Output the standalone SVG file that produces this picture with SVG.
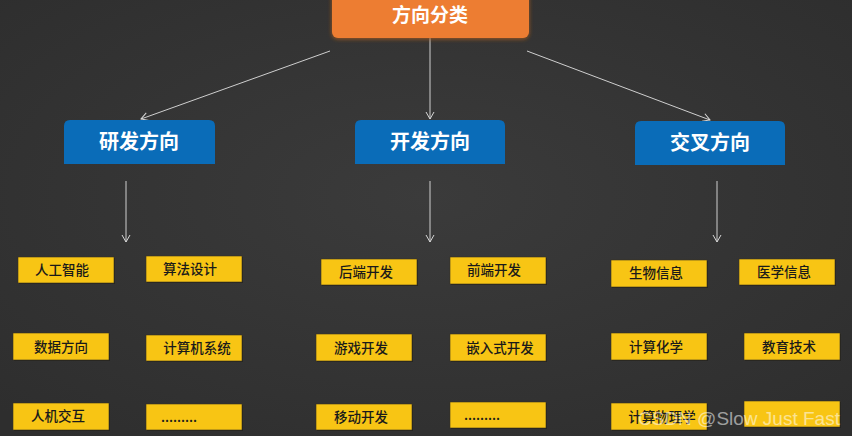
<svg xmlns="http://www.w3.org/2000/svg" width="852" height="436" viewBox="0 0 852 436">
<defs>
<radialGradient id="bg" cx="50%" cy="45%" r="70%">
<stop offset="0" stop-color="#3b3b3b"/>
<stop offset="1" stop-color="#2e2e2e"/>
</radialGradient>
<filter id="glow" x="-10%" y="-30%" width="120%" height="170%">
<feGaussianBlur in="SourceAlpha" stdDeviation="2"/>
<feOffset dx="0" dy="1" result="b"/>
<feFlood flood-color="#a85a1c" flood-opacity="0.9"/>
<feComposite in2="b" operator="in"/>
<feMerge><feMergeNode/><feMergeNode in="SourceGraphic"/></feMerge>
</filter>
<marker id="arr" markerWidth="10" markerHeight="10" refX="8" refY="5" orient="auto" markerUnits="userSpaceOnUse">
<path d="M1,1 L8,5 L1,9" fill="none" stroke="#d8d8d8" stroke-width="1"/>
</marker>
<style>
.top{fill:#ed7d31;}
.topt{font-family:"Noto Sans CJK SC","Noto Sans",sans-serif;font-size:19px;font-weight:bold;fill:#fff;text-anchor:middle;}
.cat{fill:#0a6cb8;}
.catt{font-family:"Noto Sans CJK SC","Noto Sans",sans-serif;font-size:20px;font-weight:bold;fill:#fff;text-anchor:middle;}
.leaf{fill:#f8c514;stroke:#3a3220;stroke-width:0.6;}
.shadow{fill:#1e1e1e;opacity:0.7;}
.leaft{font-family:"Noto Sans CJK SC","Noto Sans",sans-serif;font-size:13.5px;font-weight:500;fill:#1a1a1a;text-anchor:middle;}
.conn line{stroke:#cfcfcf;stroke-width:1;marker-end:url(#arr);}
.wm{font-family:"Liberation Sans",Arial,sans-serif;font-size:19px;fill:#ffffff;fill-opacity:0.55;}
</style>
</defs>
<rect width="852" height="436" fill="url(#bg)"/>

<g class="conn" id="connectors">
<line x1="330" y1="51" x2="141" y2="119"/>
<line x1="430" y1="38" x2="430" y2="119"/>
<line x1="527" y1="51" x2="710" y2="120"/>
<line x1="126" y1="181" x2="126" y2="242"/>
<line x1="430" y1="181" x2="430" y2="242"/>
<line x1="717" y1="181" x2="717" y2="242"/>
</g>

<g id="root">
<rect class="top" x="332" y="-10" width="197" height="48" rx="6" filter="url(#glow)"/>
<text class="topt" x="430" y="22">方向分类</text>
</g>

<g id="cat-yanfa">
<path class="cat" d="M64,164 V126 Q64,120 70,120 H209 Q215,120 215,126 V164 Z"/>
<text class="catt" x="139" y="149">研发方向</text>
</g>
<g id="cat-kaifa">
<path class="cat" d="M355,164 V126 Q355,120 361,120 H499 Q505,120 505,126 V164 Z"/>
<text class="catt" x="430" y="149">开发方向</text>
</g>
<g id="cat-jiaocha">
<path class="cat" d="M635,165 V127 Q635,121 641,121 H779 Q785,121 785,127 V165 Z"/>
<text class="catt" x="710" y="150">交叉方向</text>
</g>

<g id="leaf-rgzn"><rect class="shadow" x="19" y="258" width="96" height="26"/><rect class="leaf" x="18" y="257" width="96" height="26"/><text class="leaft" x="62" y="275">人工智能</text></g>
<g id="leaf-sfsj"><rect class="shadow" x="147" y="257" width="96" height="26"/><rect class="leaf" x="146" y="256" width="96" height="26"/><text class="leaft" x="190" y="274">算法设计</text></g>
<g id="leaf-sjfx"><rect class="shadow" x="14" y="334" width="96" height="27"/><rect class="leaf" x="13" y="333" width="96" height="27"/><text class="leaft" x="61" y="352">数据方向</text></g>
<g id="leaf-jsjxt"><rect class="shadow" x="147" y="336" width="96" height="26"/><rect class="leaf" x="146" y="335" width="96" height="26"/><text class="leaft" x="197" y="353">计算机系统</text></g>
<g id="leaf-rjjh"><rect class="shadow" x="14" y="404" width="96" height="27"/><rect class="leaf" x="13" y="403" width="96" height="27"/><text class="leaft" x="58" y="421">人机交互</text></g>
<g id="leaf-more1"><rect class="shadow" x="147" y="405" width="96" height="26"/><rect class="leaf" x="146" y="404" width="96" height="26"/><text class="leaft" x="179" y="422">.........</text></g>

<g id="leaf-hdkf"><rect class="shadow" x="322" y="260" width="96" height="26"/><rect class="leaf" x="321" y="259" width="96" height="26"/><text class="leaft" x="366" y="277">后端开发</text></g>
<g id="leaf-qdkf"><rect class="shadow" x="451" y="258" width="96" height="27"/><rect class="leaf" x="450" y="257" width="96" height="27"/><text class="leaft" x="494" y="275">前端开发</text></g>
<g id="leaf-yxkf"><rect class="shadow" x="317" y="335" width="96" height="27"/><rect class="leaf" x="316" y="334" width="96" height="27"/><text class="leaft" x="361" y="353">游戏开发</text></g>
<g id="leaf-qrskf"><rect class="shadow" x="451" y="335" width="96" height="27"/><rect class="leaf" x="450" y="334" width="96" height="27"/><text class="leaft" x="500" y="353">嵌入式开发</text></g>
<g id="leaf-ydkf"><rect class="shadow" x="317" y="405" width="96" height="26"/><rect class="leaf" x="316" y="404" width="96" height="26"/><text class="leaft" x="361" y="422">移动开发</text></g>
<g id="leaf-more2"><rect class="shadow" x="451" y="403" width="96" height="26"/><rect class="leaf" x="450" y="402" width="96" height="26"/><text class="leaft" x="482" y="420">.........</text></g>

<g id="leaf-swxx"><rect class="shadow" x="612" y="261" width="96" height="27"/><rect class="leaf" x="611" y="260" width="96" height="27"/><text class="leaft" x="656" y="278">生物信息</text></g>
<g id="leaf-yxxx"><rect class="shadow" x="740" y="260" width="96" height="26"/><rect class="leaf" x="739" y="259" width="96" height="26"/><text class="leaft" x="784" y="277">医学信息</text></g>
<g id="leaf-jshx"><rect class="shadow" x="612" y="334" width="96" height="27"/><rect class="leaf" x="611" y="333" width="96" height="27"/><text class="leaft" x="656" y="352">计算化学</text></g>
<g id="leaf-jyjs"><rect class="shadow" x="745" y="334" width="96" height="27"/><rect class="leaf" x="744" y="333" width="96" height="27"/><text class="leaft" x="789" y="352">教育技术</text></g>
<g id="leaf-jswlx"><rect class="shadow" x="612" y="404" width="96" height="27"/><rect class="leaf" x="611" y="403" width="96" height="27"/><text class="leaft" x="662" y="422">计算物理学</text></g>
<g id="leaf-empty"><rect class="shadow" x="745" y="402" width="96" height="26"/><rect class="leaf" x="744" y="401" width="96" height="26"/></g>

<text class="wm" x="638" y="425">CSDN @Slow Just Fast</text>
</svg>
